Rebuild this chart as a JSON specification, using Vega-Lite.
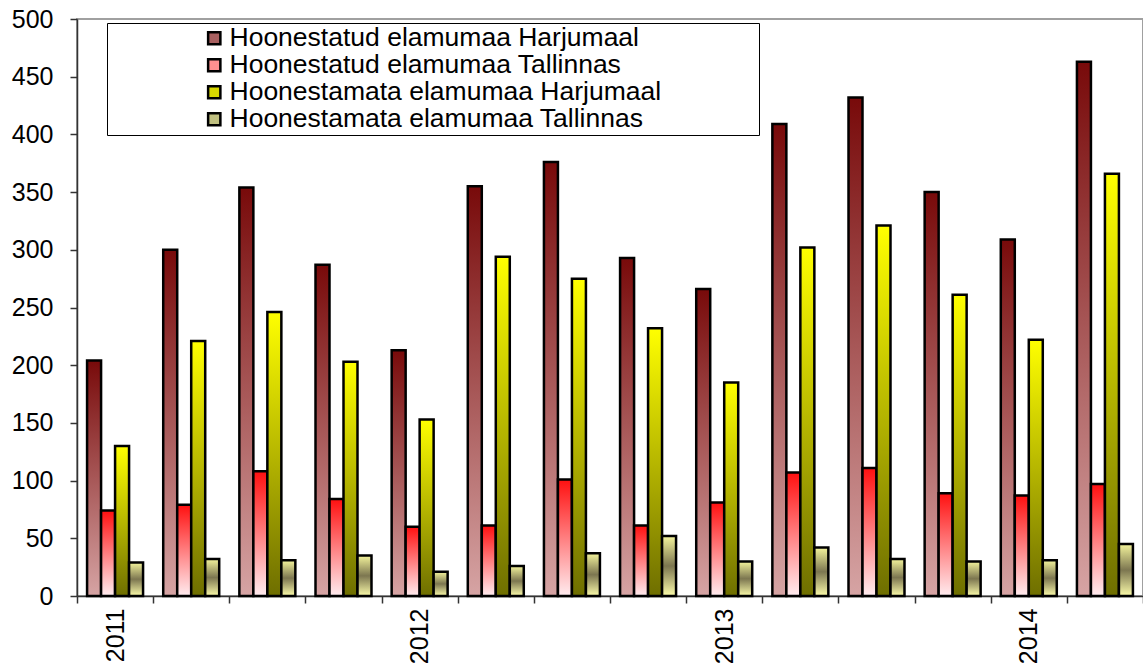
{
  "$schema": "https://vega.github.io/schema/vega-lite/v6.json",
  "autosize": "none",
  "width": 1066,
  "height": 577,
  "padding": {"left": 77, "top": 19, "right": 0, "bottom": 70},
  "background": "white",
  "config": {
    "font": "Liberation Sans",
    "view": {"stroke": "#a0a0a0", "strokeWidth": 2}
  },
  "data": {
    "values": [
      {"q": "2011Q1", "s": "Hoonestatud elamumaa Harjumaal", "v": 204},
      {"q": "2011Q1", "s": "Hoonestatud elamumaa Tallinnas", "v": 74},
      {"q": "2011Q1", "s": "Hoonestamata elamumaa Harjumaal", "v": 130},
      {"q": "2011Q1", "s": "Hoonestamata elamumaa Tallinnas", "v": 29},
      {"q": "2011Q2", "s": "Hoonestatud elamumaa Harjumaal", "v": 300},
      {"q": "2011Q2", "s": "Hoonestatud elamumaa Tallinnas", "v": 79},
      {"q": "2011Q2", "s": "Hoonestamata elamumaa Harjumaal", "v": 221},
      {"q": "2011Q2", "s": "Hoonestamata elamumaa Tallinnas", "v": 32},
      {"q": "2011Q3", "s": "Hoonestatud elamumaa Harjumaal", "v": 354},
      {"q": "2011Q3", "s": "Hoonestatud elamumaa Tallinnas", "v": 108},
      {"q": "2011Q3", "s": "Hoonestamata elamumaa Harjumaal", "v": 246},
      {"q": "2011Q3", "s": "Hoonestamata elamumaa Tallinnas", "v": 31},
      {"q": "2011Q4", "s": "Hoonestatud elamumaa Harjumaal", "v": 287},
      {"q": "2011Q4", "s": "Hoonestatud elamumaa Tallinnas", "v": 84},
      {"q": "2011Q4", "s": "Hoonestamata elamumaa Harjumaal", "v": 203},
      {"q": "2011Q4", "s": "Hoonestamata elamumaa Tallinnas", "v": 35},
      {"q": "2012Q1", "s": "Hoonestatud elamumaa Harjumaal", "v": 213},
      {"q": "2012Q1", "s": "Hoonestatud elamumaa Tallinnas", "v": 60},
      {"q": "2012Q1", "s": "Hoonestamata elamumaa Harjumaal", "v": 153},
      {"q": "2012Q1", "s": "Hoonestamata elamumaa Tallinnas", "v": 21},
      {"q": "2012Q2", "s": "Hoonestatud elamumaa Harjumaal", "v": 355},
      {"q": "2012Q2", "s": "Hoonestatud elamumaa Tallinnas", "v": 61},
      {"q": "2012Q2", "s": "Hoonestamata elamumaa Harjumaal", "v": 294},
      {"q": "2012Q2", "s": "Hoonestamata elamumaa Tallinnas", "v": 26},
      {"q": "2012Q3", "s": "Hoonestatud elamumaa Harjumaal", "v": 376},
      {"q": "2012Q3", "s": "Hoonestatud elamumaa Tallinnas", "v": 101},
      {"q": "2012Q3", "s": "Hoonestamata elamumaa Harjumaal", "v": 275},
      {"q": "2012Q3", "s": "Hoonestamata elamumaa Tallinnas", "v": 37},
      {"q": "2012Q4", "s": "Hoonestatud elamumaa Harjumaal", "v": 293},
      {"q": "2012Q4", "s": "Hoonestatud elamumaa Tallinnas", "v": 61},
      {"q": "2012Q4", "s": "Hoonestamata elamumaa Harjumaal", "v": 232},
      {"q": "2012Q4", "s": "Hoonestamata elamumaa Tallinnas", "v": 52},
      {"q": "2013Q1", "s": "Hoonestatud elamumaa Harjumaal", "v": 266},
      {"q": "2013Q1", "s": "Hoonestatud elamumaa Tallinnas", "v": 81},
      {"q": "2013Q1", "s": "Hoonestamata elamumaa Harjumaal", "v": 185},
      {"q": "2013Q1", "s": "Hoonestamata elamumaa Tallinnas", "v": 30},
      {"q": "2013Q2", "s": "Hoonestatud elamumaa Harjumaal", "v": 409},
      {"q": "2013Q2", "s": "Hoonestatud elamumaa Tallinnas", "v": 107},
      {"q": "2013Q2", "s": "Hoonestamata elamumaa Harjumaal", "v": 302},
      {"q": "2013Q2", "s": "Hoonestamata elamumaa Tallinnas", "v": 42},
      {"q": "2013Q3", "s": "Hoonestatud elamumaa Harjumaal", "v": 432},
      {"q": "2013Q3", "s": "Hoonestatud elamumaa Tallinnas", "v": 111},
      {"q": "2013Q3", "s": "Hoonestamata elamumaa Harjumaal", "v": 321},
      {"q": "2013Q3", "s": "Hoonestamata elamumaa Tallinnas", "v": 32},
      {"q": "2013Q4", "s": "Hoonestatud elamumaa Harjumaal", "v": 350},
      {"q": "2013Q4", "s": "Hoonestatud elamumaa Tallinnas", "v": 89},
      {"q": "2013Q4", "s": "Hoonestamata elamumaa Harjumaal", "v": 261},
      {"q": "2013Q4", "s": "Hoonestamata elamumaa Tallinnas", "v": 30},
      {"q": "2014Q1", "s": "Hoonestatud elamumaa Harjumaal", "v": 309},
      {"q": "2014Q1", "s": "Hoonestatud elamumaa Tallinnas", "v": 87},
      {"q": "2014Q1", "s": "Hoonestamata elamumaa Harjumaal", "v": 222},
      {"q": "2014Q1", "s": "Hoonestamata elamumaa Tallinnas", "v": 31},
      {"q": "2014Q2", "s": "Hoonestatud elamumaa Harjumaal", "v": 463},
      {"q": "2014Q2", "s": "Hoonestatud elamumaa Tallinnas", "v": 97},
      {"q": "2014Q2", "s": "Hoonestamata elamumaa Harjumaal", "v": 366},
      {"q": "2014Q2", "s": "Hoonestamata elamumaa Tallinnas", "v": 45}
    ]
  },
  "mark": {"type": "bar", "stroke": "black", "strokeWidth": 2.5},
  "encoding": {
    "x": {
      "field": "q",
      "type": "nominal",
      "sort": null,
      "title": null,
      "scale": {"paddingInner": 0, "paddingOuter": 0},
      "axis": {
        "tickBand": "extent",
        "labelExpr": "substring(datum.value, 4) == 'Q1' ? substring(datum.value, 0, 4) : ''",
        "labelAngle": -90,
        "labelAlign": "right",
        "labelBaseline": "middle",
        "labelFontSize": 25,
        "labelColor": "black",
        "labelPadding": 5,
        "tickSize": 7,
        "tickColor": "#333",
        "tickWidth": 1.5,
        "domainColor": "#333",
        "domainWidth": 1.5,
        "labelOverlap": false
      }
    },
    "xOffset": {
      "field": "s",
      "type": "nominal",
      "scale": {
        "domain": ["Hoonestatud elamumaa Harjumaal", "Hoonestatud elamumaa Tallinnas", "Hoonestamata elamumaa Harjumaal", "Hoonestamata elamumaa Tallinnas"],
        "paddingInner": 0,
        "paddingOuter": 0.72
      }
    },
    "y": {
      "field": "v",
      "type": "quantitative",
      "title": null,
      "scale": {"domain": [0, 500], "nice": false},
      "axis": {
        "values": [0, 50, 100, 150, 200, 250, 300, 350, 400, 450, 500],
        "grid": false,
        "labelFontSize": 25,
        "labelColor": "black",
        "labelPadding": 17,
        "tickSize": 7,
        "tickColor": "#333",
        "tickWidth": 1.5,
        "domainColor": "#333",
        "domainWidth": 1.5
      }
    },
    "color": {
      "field": "s",
      "type": "nominal",
      "condition": [
        {"test": "datum.s == 'Hoonestatud elamumaa Harjumaal'", "value": {"gradient": "linear", "x1": 0, "y1": 0, "x2": 0, "y2": 1, "stops": [{"offset": 0, "color": "#780a0a"}, {"offset": 1, "color": "#d6a4a4"}]}},
        {"test": "datum.s == 'Hoonestatud elamumaa Tallinnas'", "value": {"gradient": "linear", "x1": 0, "y1": 0, "x2": 0, "y2": 1, "stops": [{"offset": 0, "color": "#ff1010"}, {"offset": 1, "color": "#ffecef"}]}},
        {"test": "datum.s == 'Hoonestamata elamumaa Harjumaal'", "value": {"gradient": "linear", "x1": 0, "y1": 0, "x2": 0, "y2": 1, "stops": [{"offset": 0, "color": "#ffff00"}, {"offset": 1, "color": "#6e6e00"}]}},
        {"test": "datum.s == 'Hoonestamata elamumaa Tallinnas'", "value": {"gradient": "linear", "x1": 0, "y1": 0, "x2": 0, "y2": 1, "stops": [{"offset": 0, "color": "#f4f49c"}, {"offset": 0.5, "color": "#7c7650"}, {"offset": 1, "color": "#fcfcaa"}]}}
      ],
      "scale": {
        "domain": ["Hoonestatud elamumaa Harjumaal", "Hoonestatud elamumaa Tallinnas", "Hoonestamata elamumaa Harjumaal", "Hoonestamata elamumaa Tallinnas"],
        "range": ["#a86060", "#ff9090", "#d8d800", "#c0c080"]
      },
      "legend": {
        "title": null,
        "orient": "none",
        "legendX": 30,
        "legendY": 4,
        "fillColor": "white",
        "strokeColor": "black",
        "padding": 2,
        "rowPadding": -0.5,
        "symbolType": "square",
        "symbolSize": 150,
        "symbolStrokeColor": "black",
        "symbolStrokeWidth": 2.5,
        "symbolOffset": 92,
        "labelOffset": 2,
        "labelFontSize": 26.5,
        "labelColor": "black",
        "labelLimit": 2000,
        "labelExpr": "datum.label + '\u00a0\u00a0\u00a0\u00a0\u00a0\u00a0\u00a0\u00a0\u00a0\u00a0\u00a0\u00a0\u00a0\u200b'",
        "encode": {
          "symbols": {
            "update": {
              "fill": [
                {"test": "datum.value == 'Hoonestatud elamumaa Harjumaal'", "value": {"gradient": "linear", "x1": 0, "y1": 0, "x2": 0, "y2": 1, "stops": [{"offset": 0, "color": "#8a3030"}, {"offset": 1, "color": "#d6a4a4"}]}},
                {"test": "datum.value == 'Hoonestatud elamumaa Tallinnas'", "value": {"gradient": "linear", "x1": 0, "y1": 0, "x2": 0, "y2": 1, "stops": [{"offset": 0, "color": "#ff3030"}, {"offset": 1, "color": "#ffecef"}]}},
                {"test": "datum.value == 'Hoonestamata elamumaa Harjumaal'", "value": {"gradient": "linear", "x1": 0, "y1": 0, "x2": 0, "y2": 1, "stops": [{"offset": 0, "color": "#ffff00"}, {"offset": 1, "color": "#8a8a00"}]}},
                {"value": {"gradient": "linear", "x1": 0, "y1": 0, "x2": 0, "y2": 1, "stops": [{"offset": 0, "color": "#e0e090"}, {"offset": 1, "color": "#909060"}]}}
              ],
              "stroke": {"value": "black"},
              "strokeWidth": {"value": 2.5}
            }
          }
        }
      }
    }
  }
}
